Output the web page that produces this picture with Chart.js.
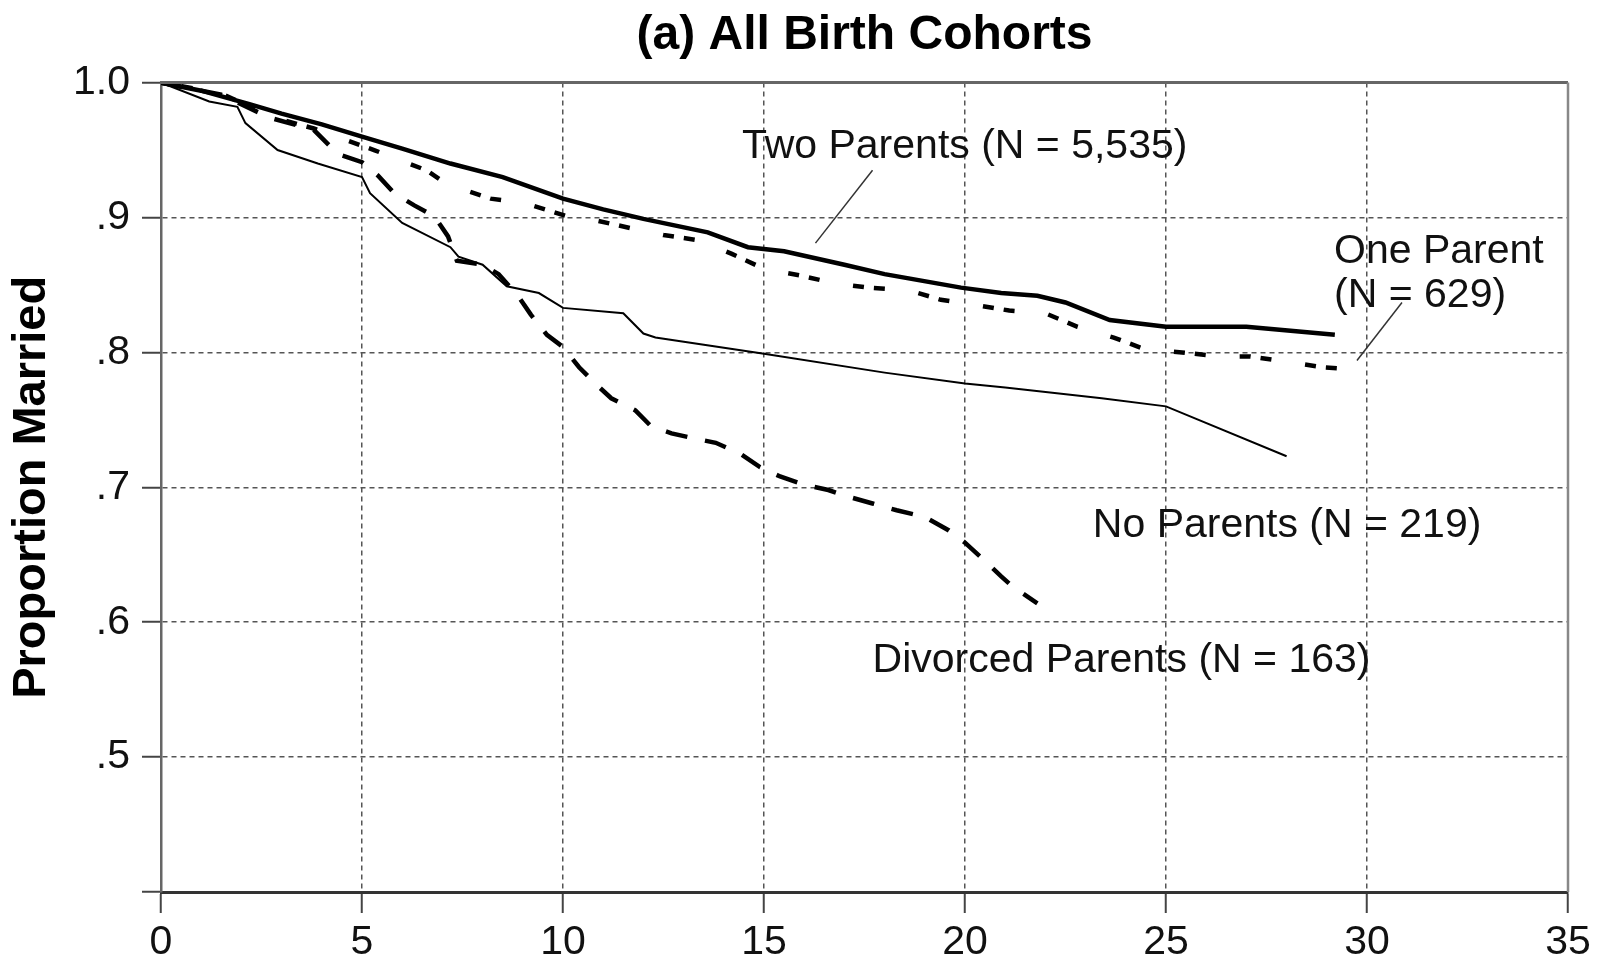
<!DOCTYPE html>
<html>
<head>
<meta charset="utf-8">
<script src="https://cdn.jsdelivr.net/npm/chart.js@4"></script>
<style>
  html, body { margin: 0; padding: 0; background: #fff; }
  #wrap { width: 1609px; height: 962px; }
</style>
</head>
<body>
<div id="wrap"><canvas id="chart"></canvas></div>
<script>
const FONT = '"Liberation Sans", Arial, Helvetica, sans-serif'

// years since marriage
const twoParentsX = [0, 1, 2.2, 3, 4, 5, 6, 7.2, 8.5, 10, 11, 12, 13.6, 14.6, 15.5, 17, 18, 19.9, 20.9, 21.8, 22.5, 23.6, 25, 27, 29.2]
const twoParentsY = [1, .994, .984, .977, .969, .960, .951, .940, .930, .914, .906, .899, .889, .878, .875, .865, .858, .848, .844, .842, .837, .824, .819, .819, .813]

const oneParentX = [0, 1.5, 2.7, 3.8, 5.3, 6.6, 7.1, 8.2, 9, 10.1, 10.8, 11.7, 12.5, 13.4, 14.2, 15, 15.9, 16.8, 17.6, 18.6, 19.4, 20.3, 21.1, 22, 22.8, 23.7, 24.5, 25.4, 26.3, 27.1, 28, 28.9, 29.9]
const oneParentY = [1, .992, .975, .966, .950, .935, .925, .914, .911, .901, .898, .892, .887, .883, .873, .862, .857, .851, .848, .846, .839, .835, .831, .829, .819, .811, .802, .800, .797, .797, .793, .789, .787]

const noParentsX = [0, 1.2, 1.9, 2.1, 2.9, 3.9, 5.0, 5.2, 6.0, 7.2, 7.4, 8.0, 8.6, 9.4, 10.0, 11.5, 12.0, 12.3, 15, 18, 20, 21, 23.4, 25, 28]
const noParentsY = [1, .986, .982, .970, .950, .940, .930, .918, .896, .878, .871, .865, .849, .844, .833, .829, .814, .811, .799, .785, .777, .774, .766, .760, .723]

const divorcedX = [0, 1.5, 2.7, 3.8, 4.4, 5.0, 5.4, 5.8, 6.3, 6.8, 7.14, 7.36, 8.0, 8.4, 8.9, 9.2, 9.6, 10.0, 10.4, 10.8, 11.2, 11.8, 12.2, 12.7, 13.3, 13.8, 14.4, 14.9, 15.4, 16.0, 16.6, 17.1, 17.7, 18.3, 19.0, 19.6, 20.0, 20.4, 20.9, 21.2, 21.8]
const divorcedY = [1, .991, .974, .965, .947, .941, .931, .918, .909, .901, .886, .868, .865, .858, .841, .828, .813, .804, .789, .777, .766, .757, .745, .740, .736, .733, .725, .715, .708, .702, .698, .693, .688, .683, .678, .668, .659, .648, .634, .626, .614]

const yTickLabels = {1: '1.0', 0.9: '.9', 0.8: '.8', 0.7: '.7', 0.6: '.6', 0.5: '.5'}

// labels: [text lines, x, y of first baseline]
const labels = [
  [['Two Parents (N = 5,535)'], 14.45, .944],
  [['One Parent', '(N = 629)'], 29.18, .866],
  [['No Parents (N = 219)'], 23.18, .6635],
  [['Divorced Parents (N = 163)'], 17.7, .563]
]
// leader lines [x1, y1, x2, y2]
const leaders = [
  [17.7, .935, 16.28, .881],
  [30.87, .837, 29.75, .794]
]

const pts = (xs, ys) => xs.map((x, i) => ({x: x, y: ys[i]}))

const annotate = {
  id: 'annotate',
  afterDatasetsDraw(chart) {
    const {ctx, chartArea: a, scales: {x, y}} = chart
    ctx.save()
    // frame: top and right
    ctx.strokeStyle = '#666'
    ctx.lineWidth = 3
    ctx.beginPath()
    ctx.moveTo(a.left, a.top)
    ctx.lineTo(a.right, a.top)
    ctx.stroke()
    ctx.strokeStyle = '#888'
    ctx.lineWidth = 2.5
    ctx.beginPath()
    ctx.moveTo(a.right, a.top)
    ctx.lineTo(a.right, a.bottom)
    ctx.stroke()

    ctx.strokeStyle = '#333'
    ctx.lineWidth = 1.5
    leaders.forEach(l => {
      ctx.beginPath()
      ctx.moveTo(x.getPixelForValue(l[0]), y.getPixelForValue(l[1]))
      ctx.lineTo(x.getPixelForValue(l[2]), y.getPixelForValue(l[3]))
      ctx.stroke()
    })

    ctx.fillStyle = '#111'
    ctx.font = '41px ' + FONT
    ctx.textAlign = 'left'
    ctx.textBaseline = 'alphabetic'
    labels.forEach(l => {
      const px = x.getPixelForValue(l[1])
      const py = y.getPixelForValue(l[2])
      l[0].forEach((t, i) => ctx.fillText(t, px, py + i * 43.5))
    })
    ctx.restore()
  }
}

const ctx = document.getElementById('chart')
new Chart(ctx, {
  type: 'line',
  data: {
    datasets: [
      {
        label: 'Two Parents',
        data: pts(twoParentsX, twoParentsY),
        borderColor: '#000',
        borderWidth: 4.5
      },
      {
        label: 'One Parent',
        data: pts(oneParentX, oneParentY),
        borderColor: '#000',
        borderWidth: 4.5,
        borderDash: [11, 10, 11, 34]
      },
      {
        label: 'No Parents',
        data: pts(noParentsX, noParentsY),
        borderColor: '#000',
        borderWidth: 2
      },
      {
        label: 'Divorced Parents',
        data: pts(divorcedX, divorcedY),
        borderColor: '#000',
        borderWidth: 4.5,
        borderDash: [22, 18]
      }
    ]
  },
  options: {
    responsive: true,
    maintainAspectRatio: false,
    animation: false,
    layout: { padding: { left: 0, right: 41, top: 0, bottom: 0 } },
    elements: {
      point: { radius: 0 },
      line: { tension: 0, borderCapStyle: 'butt', fill: false }
    },
    plugins: {
      legend: { display: false },
      tooltip: { enabled: false },
      title: {
        display: true,
        fullSize: false,
        text: '(a) All Birth Cohorts',
        color: '#000',
        font: { family: FONT, size: 48, weight: 'bold' },
        padding: { top: 7, bottom: 18 }
      }
    },
    scales: {
      x: {
        type: 'linear',
        min: 0,
        max: 35,
        afterFit: s => { s.height = 70 },
        ticks: {
          stepSize: 5,
          color: '#111',
          padding: 5,
          font: { family: FONT, size: 41 }
        },
        grid: {
          color: c => (c.tick.value === 0 || c.tick.value === 35) ? 'rgba(0,0,0,0)' : '#555',
          lineWidth: 1.5,
          tickLength: 21,
          tickColor: '#444',
          tickWidth: 2
        },
        border: { display: true, color: '#333', width: 3, dash: [5, 4] }
      },
      y: {
        min: 0.4,
        max: 1.0,
        afterFit: s => { s.width = 161 },
        afterBuildTicks: s => {
          s.ticks = [0.4, 0.5, 0.6, 0.7, 0.8, 0.9, 1.0].map(v => ({value: v}))
        },
        ticks: {
          color: '#111',
          padding: 12,
          font: { family: FONT, size: 41 },
          callback: v => yTickLabels[Math.round(v * 10) / 10] || ''
        },
        title: {
          display: true,
          text: 'Proportion Married',
          color: '#000',
          font: { family: FONT, size: 47, weight: 'bold' },
          padding: { top: 4, bottom: 0 }
        },
        grid: {
          color: c => (Math.abs(c.tick.value - 1) < 1e-6 || Math.abs(c.tick.value - 0.4) < 1e-6) ? 'rgba(0,0,0,0)' : '#555',
          lineWidth: 1.5,
          tickLength: 19,
          tickColor: '#444',
          tickWidth: 2
        },
        border: { display: true, color: '#666', width: 2.5, dash: [5, 4] }
      }
    }
  },
  plugins: [annotate]
})
</script>
</body>
</html>
